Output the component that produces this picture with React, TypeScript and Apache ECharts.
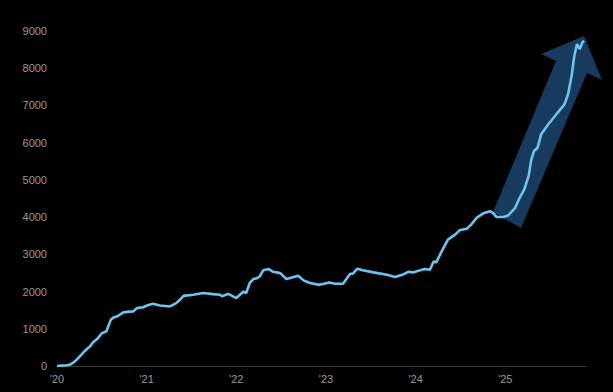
import React, { useEffect, useRef } from "react";
import * as echarts from "echarts";

const years: number[] = [
  2020.0, 2020.05, 2020.11, 2020.15, 2020.18, 2020.22, 2020.26, 2020.3, 2020.33, 2020.37,
  2020.4, 2020.45, 2020.5, 2020.55, 2020.6, 2020.63, 2020.67, 2020.74, 2020.8, 2020.85,
  2020.89, 2020.96, 2021.02, 2021.07, 2021.15, 2021.26, 2021.33, 2021.38, 2021.41, 2021.52,
  2021.63, 2021.74, 2021.82, 2021.84, 2021.91, 2022.0, 2022.08, 2022.11, 2022.15, 2022.19,
  2022.23, 2022.26, 2022.3, 2022.36, 2022.41, 2022.49, 2022.56, 2022.69, 2022.75, 2022.82,
  2022.93, 2023.04, 2023.1, 2023.19, 2023.27, 2023.3, 2023.35, 2023.41, 2023.53, 2023.68,
  2023.77, 2023.86, 2023.92, 2023.97, 2024.05, 2024.1, 2024.16, 2024.2, 2024.23, 2024.29,
  2024.36, 2024.44, 2024.49, 2024.57, 2024.62, 2024.68, 2024.75, 2024.83, 2024.87, 2024.9,
  2024.98, 2025.03, 2025.11, 2025.16, 2025.21, 2025.26, 2025.29, 2025.32, 2025.36, 2025.4,
  2025.48, 2025.57, 2025.66, 2025.7, 2025.74, 2025.77, 2025.8, 2025.83, 2025.86, 2025.88,
];

const values: number[] = [
  0, 10, 20, 40, 90, 170, 270, 380, 450, 530,
  630, 730, 880, 925, 1240, 1300, 1330, 1440, 1460, 1465,
  1555, 1580, 1640, 1670, 1625, 1600, 1690, 1800, 1885, 1913,
  1960, 1930, 1913, 1870, 1940, 1825, 2000, 1960, 2230, 2335,
  2360, 2405, 2570, 2605, 2530, 2495, 2335, 2425, 2300, 2230,
  2180, 2245, 2210, 2210, 2480, 2480, 2615, 2570, 2515, 2450,
  2390, 2460, 2530, 2515, 2570, 2605, 2585, 2810, 2785, 3080,
  3395, 3530, 3645, 3685, 3800, 3980, 4095, 4160, 4095, 4005,
  4005, 4040, 4250, 4520, 4740, 5100, 5550, 5775, 5865, 6225,
  6495, 6765, 7030, 7300, 7795, 8335, 8650, 8515, 8695, 8740,
];

const yTicks: number[] = [0, 1000, 2000, 3000, 4000, 5000, 6000, 7000, 8000, 9000];
const xTickYears: number[] = [2020, 2021, 2022, 2023, 2024, 2025];

export default function App() {
  const ref = useRef<HTMLDivElement>(null);
  useEffect(() => {
    if (!ref.current) return;
    const chart = echarts.init(ref.current, undefined, { renderer: "svg" });
    const font = "'Liberation Sans Narrow', 'Arial Narrow', 'Liberation Sans', Arial, sans-serif";
    chart.setOption({
      animation: false,
      backgroundColor: "#000000",
      grid: { left: 57, right: 27, top: 31, bottom: 26, containLabel: false },
      xAxis: {
        type: "value",
        min: 2020,
        max: 2025.9,
        interval: 1,
        axisLine: { show: true, lineStyle: { color: "#3a3a3a", width: 1 } },
        axisTick: { show: false },
        splitLine: { show: false },
        axisLabel: {
          color: "#9a9a9a",
          fontSize: 11,
          fontFamily: font,
          margin: 7,
          showMaxLabel: false,
          formatter: (v: number) =>
            xTickYears.includes(Math.round(v * 1000) / 1000) ? "'" + String(v).slice(2) : "",
        },
      },
      yAxis: {
        type: "value",
        min: yTicks[0],
        max: yTicks[yTicks.length - 1],
        interval: 1000,
        axisLine: { show: false },
        axisTick: { show: false },
        splitLine: { show: false },
        axisLabel: {
          color: "#9a9a9a",
          fontSize: 11,
          fontFamily: font,
          margin: 10,
          formatter: (v: number) => String(Math.round(v)),
        },
      },
      graphic: [
        {
          type: "polygon",
          z: 1,
          shape: {
            points: [
              [493, 212],
              [521, 228],
              [587, 73],
              [602, 80],
              [584, 36],
              [541, 54],
              [556, 61],
            ],
          },
          style: { fill: "#173a5e" },
        },
      ],
      series: [
        {
          type: "line",
          z: 5,
          data: years.map((y, i) => [y, values[i]]),
          showSymbol: false,
          symbol: "none",
          lineStyle: { color: "#6ec3f0", width: 2.6 },
        },
      ],
    });
    return () => chart.dispose();
  }, []);
  return <div ref={ref} style={{ width: 613, height: 392, position: "absolute", left: 0, top: 0 }} />;
}
